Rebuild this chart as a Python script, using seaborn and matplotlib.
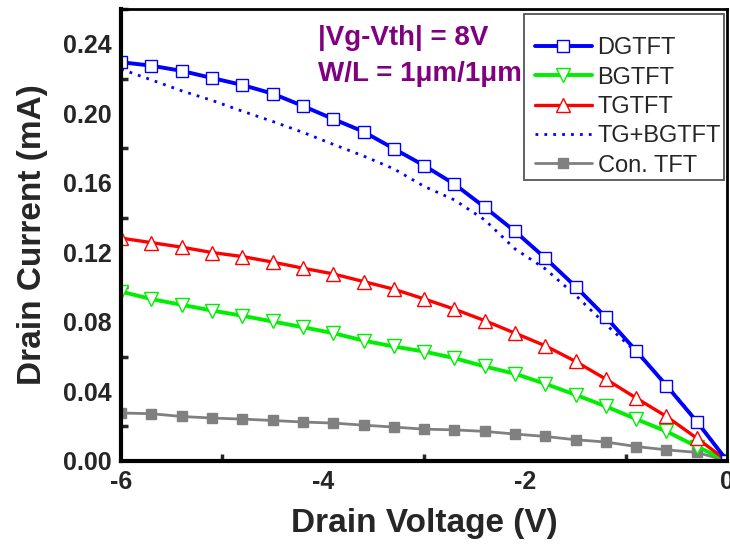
import numpy as np
import pandas as pd
import matplotlib
matplotlib.use("Agg")
import matplotlib.pyplot as plt
from matplotlib.patches import Rectangle
from matplotlib.ticker import MultipleLocator, FormatStrFormatter
import seaborn as sns

sns.set_theme(style="white")
plt.rcParams["font.family"] = ["Liberation Sans", "DejaVu Sans"]

# Drain voltage sweep (V)
vd = [-6.0, -5.7, -5.4, -5.1, -4.8, -4.5, -4.2, -3.9, -3.6, -3.3, -3.0,
      -2.7, -2.4, -2.1, -1.8, -1.5, -1.2, -0.9, -0.6, -0.3, 0.0]

# Drain current (mA) for each device structure
dgtft = [0.2295, 0.2275, 0.2245, 0.2204, 0.2164, 0.2114, 0.2043, 0.1968, 0.1895, 0.1797, 0.1700,
         0.1593, 0.1460, 0.1321, 0.1167, 0.1003, 0.0827, 0.0633, 0.0433, 0.0226, 0.0]
bgtft = [0.0974, 0.0931, 0.0898, 0.0865, 0.0835, 0.0802, 0.0769, 0.0735, 0.0692, 0.0658, 0.0629,
         0.0591, 0.0543, 0.0501, 0.0443, 0.0380, 0.0313, 0.0240, 0.0169, 0.0082, 0.0]
tgtft = [0.1282, 0.1256, 0.1230, 0.1199, 0.1176, 0.1144, 0.1109, 0.1076, 0.1032, 0.0988, 0.0932,
         0.0873, 0.0807, 0.0735, 0.0662, 0.0572, 0.0470, 0.0361, 0.0255, 0.0130, 0.0]
tg_plus_bg = [0.2255, 0.2193, 0.2130, 0.2075, 0.2013, 0.1954, 0.1891, 0.1822, 0.1755, 0.1681, 0.1580,
              0.1502, 0.1387, 0.1220, 0.1105, 0.0953, 0.0784, 0.0627, 0.0437, 0.0230, 0.0]
con_tft = [0.0275, 0.0271, 0.0255, 0.0246, 0.0240, 0.0232, 0.0223, 0.0217, 0.0205, 0.0194, 0.0182,
           0.0178, 0.0169, 0.0154, 0.0140, 0.0121, 0.0108, 0.0082, 0.0063, 0.0048, 0.0]

labels = ["DGTFT", "BGTFT", "TGTFT", "TG+BGTFT", "Con. TFT"]
x_ticks = [-6, -4, -2, 0]
x_ticklabels = ["-6", "-4", "-2", "0"]

df = pd.DataFrame({"Vd": vd, "DGTFT": dgtft, "BGTFT": bgtft, "TGTFT": tgtft,
                   "TG+BGTFT": tg_plus_bg, "Con. TFT": con_tft})

fig = plt.figure(figsize=(7.3, 5.44), dpi=100)
ax = fig.add_axes([0.166, 0.153, 0.830, 0.830])

styles = {
    "DGTFT": dict(color="#0000ff", lw=2.8, ls="-", marker="s", ms=8.5, mfc="white", mec="#0000ff", mew=1.0),
    "BGTFT": dict(color="#00ee00", lw=2.8, ls="-", marker="v", ms=10, mfc="white", mec="#00ee00", mew=1.0),
    "TGTFT": dict(color="#ff0000", lw=2.4, ls="-", marker="^", ms=9.5, mfc="white", mec="#ff0000", mew=1.0),
    "TG+BGTFT": dict(color="#0000ff", lw=2.0, ls=(0, (1, 2.2)), marker=None),
    "Con. TFT": dict(color="#808080", lw=2.0, ls="-", marker="s", ms=7.5, mfc="#808080", mec="#808080", mew=1.0),
}
draw_order = ["Con. TFT", "BGTFT", "TGTFT", "TG+BGTFT", "DGTFT"]
for name in draw_order:
    sns.lineplot(data=df, x="Vd", y=name, ax=ax, label=name, **styles[name])
handles_all, labels_all = ax.get_legend_handles_labels()
hmap = dict(zip(labels_all, handles_all))

ax.set_xlim(-6, 0)
ax.set_ylim(0, 0.26)
ax.xaxis.set_minor_locator(MultipleLocator(1))
ax.yaxis.set_major_locator(MultipleLocator(0.04))
ax.yaxis.set_minor_locator(MultipleLocator(0.02))
ax.set_xticks(x_ticks)
ax.set_xticklabels(x_ticklabels)
ax.yaxis.set_major_formatter(FormatStrFormatter("%.2f"))

ax.tick_params(which="both", direction="in", top=False, right=False,
               labelsize=18, pad=7, width=2.5)
ax.tick_params(which="major", length=8)
ax.tick_params(which="minor", length=5, bottom=True, left=True)
for lab in ax.get_xticklabels() + ax.get_yticklabels():
    lab.set_fontweight("bold")

for side in ["left", "bottom"]:
    ax.spines[side].set_linewidth(3)
for side in ["top", "right"]:
    ax.spines[side].set_linewidth(2)
for s in ax.spines.values():
    s.set_color("black")

ax.set_xlabel("Drain Voltage (V)", fontsize=24, fontweight="bold", labelpad=10)
ax.set_ylabel("Drain Current (mA)", fontsize=24, fontweight="bold")
ax.yaxis.set_label_coords(-0.120, 0.5)

ax.text(0.325, 0.936, "|Vg-Vth| = 8V", transform=ax.transAxes, color="#800080",
        fontsize=20, fontweight="bold", va="center", ha="left")
ax.text(0.325, 0.857, "W/L = 1\u03bcm/1\u03bcm", transform=ax.transAxes, color="#800080",
        fontsize=20, fontweight="bold", va="center", ha="left")

# Legend box with extra room above the first entry
ax.add_patch(Rectangle((0.665, 0.622), 0.330, 0.367, transform=ax.transAxes,
                       facecolor="white", edgecolor="#555555", lw=1.3, zorder=4))
leg = ax.legend([hmap[l] for l in labels], labels, loc="upper left",
                bbox_to_anchor=(0.683, 0.938), borderaxespad=0, borderpad=0,
                fontsize=17, frameon=False,
                handlelength=2.4, handletextpad=0.25, labelspacing=0.31)
leg.set_zorder(5)

fig.savefig("out.png", dpi=100)
